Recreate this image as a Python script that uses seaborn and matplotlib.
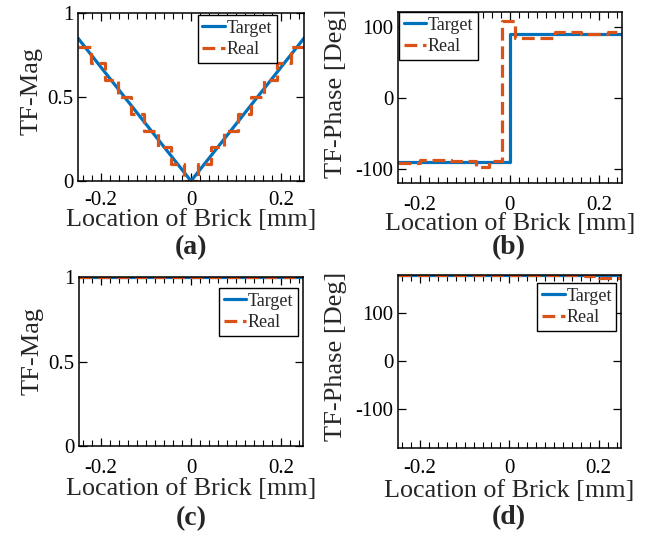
import numpy as np
import pandas as pd
import matplotlib
matplotlib.use("Agg")
import matplotlib.pyplot as plt
from matplotlib.ticker import MultipleLocator, FixedLocator
import seaborn as sns

# ---------------- data ----------------
# (a) magnitude, brick position sweep
a_target_x = [-0.25, 0.0, 0.25]
a_target_y = [0.85, 0.0, 0.85]
a_real_x = [-0.25, -0.221, -0.191, -0.162, -0.132, -0.103, -0.074, -0.044, -0.015,
            0.015, 0.044, 0.074, 0.103, 0.132, 0.162, 0.191, 0.221, 0.25]
a_real_y = [0.8, 0.7, 0.6, 0.5, 0.4, 0.3, 0.2, 0.1, 0.0,
            0.1, 0.2, 0.3, 0.4, 0.5, 0.6, 0.7, 0.8, 0.8]

# (b) phase
b_target_x = [-0.25, 0.0, 0.25]
b_target_y = [-90, 90, 90]
b_real_x = [-0.25, -0.2, -0.13, -0.076, -0.046, -0.017, 0.012, 0.10, 0.16, 0.22, 0.25]
b_real_y = [-91, -88, -89, -97, -89, 108, 84, 92, 90, 92, 92]

# (c) magnitude, second case
c_target_x = [-0.25, 0.25]
c_target_y = [1.0, 1.0]
c_real_x = [-0.25, 0.25]
c_real_y = [1.0, 1.0]

# (d) phase, second case
d_target_x = [-0.25, 0.25]
d_target_y = [180, 180]
d_real_x = [-0.25, 0.17, 0.20, 0.25]
d_real_y = [180, 177, 173, 173]

x_ticks = [-0.2, 0.0, 0.2]
x_ticklabels = ["-0.2", "0", "0.2"]
mag_ticks = [0, 0.5, 1]
mag_ticklabels = ["0", "0.5", "1"]
phase_ticks = [-100, 0, 100]
phase_ticklabels = ["-100", "0", "100"]
panel_labels = ["(a)", "(b)", "(c)", "(d)"]
series_names = ["Target", "Real"]

# ---------------- style ----------------
sns.set_style("ticks")
plt.rcParams["font.family"] = ["Liberation Serif", "DejaVu Serif"]
plt.rcParams["axes.unicode_minus"] = False
plt.rcParams["xtick.direction"] = "in"
plt.rcParams["ytick.direction"] = "in"
plt.rcParams["xtick.minor.visible"] = True
plt.rcParams["xtick.minor.size"] = 4
plt.rcParams["xtick.minor.width"] = 0.8
plt.rcParams["xtick.minor.top"] = True
plt.rcParams["xtick.minor.bottom"] = True

BLUE = "#0072BD"
ORANGE = "#D95319"
W, H = 651, 536
fig = plt.figure(figsize=(W / 100, H / 100), dpi=100)


def px_axes(x0, y0, x1, y1):
    return fig.add_axes([x0 / W, 1 - y1 / H, (x1 - x0) / W, (y1 - y0) / H])


panels = [
    dict(box=(78, 13, 304, 181), tx=a_target_x, ty=a_target_y, rx=a_real_x, ry=a_real_y,
         ylim=(0, 1), yt=mag_ticks, ytl=mag_ticklabels, ylabel="TF-Mag",
         leg=(0.53, 0.988), tstep=False, xpad=7.3, xlp=-1, ylp=3.4, ly=0.536),
    dict(box=(397.7, 12.3, 621.7, 183.3), tx=b_target_x, ty=b_target_y, rx=b_real_x, ry=b_real_y,
         ylim=(-120, 120), yt=phase_ticks, ytl=phase_ticklabels, ylabel="TF-Phase [Deg]",
         leg=(0.006, 1.0), tstep=True, xpad=8.8, xlp=-1, ylp=6.0, ly=0.525),
    dict(box=(78.7, 277.3, 303.3, 446), tx=c_target_x, ty=c_target_y, rx=c_real_x, ry=c_real_y,
         ylim=(0, 1), yt=mag_ticks, ytl=mag_ticklabels, ylabel="TF-Mag",
         leg=(0.625, 0.935), tstep=False, xpad=9.5, xlp=0, ylp=3.4, ly=0.563),
    dict(box=(397.7, 275, 621, 447.7), tx=d_target_x, ty=d_target_y, rx=d_real_x, ry=d_real_y,
         ylim=(-180, 180), yt=phase_ticks, ytl=phase_ticklabels, ylabel="TF-Phase [Deg]",
         leg=(0.626, 0.952), tstep=False, xpad=7.9, xlp=1.5, ylp=6.0, ly=0.531),
]

for i, p in enumerate(panels):
    ax = px_axes(*p["box"])
    df_t = pd.DataFrame({"x": p["tx"], "y": p["ty"]})
    df_r = pd.DataFrame({"x": p["rx"], "y": p["ry"]})
    sns.lineplot(data=df_t, x="x", y="y", ax=ax, color=BLUE, lw=2.3,
                 label=series_names[0], estimator=None, sort=False,
                 drawstyle="steps-post" if p["tstep"] else "default")
    sns.lineplot(data=df_r, x="x", y="y", ax=ax, color=ORANGE, lw=2.3,
                 label=series_names[1], estimator=None, sort=False,
                 drawstyle="steps-post", dashes=False)
    ax.lines[1].set_dashes((4.0, 1.8))
    ax.set_xlim(-0.25, 0.25)
    ax.set_ylim(*p["ylim"])
    ax.xaxis.set_major_locator(FixedLocator(x_ticks))
    ax.set_xticklabels(x_ticklabels)
    ax.yaxis.set_major_locator(FixedLocator(p["yt"]))
    ax.set_yticklabels(p["ytl"])
    ax.tick_params(axis="both", which="major", direction="in", length=6, width=0.9,
                   top=True, right=True, labelsize=15, pad=3, colors="black")
    ax.tick_params(axis="x", which="major", pad=p["xpad"])
    ax.xaxis.set_minor_locator(MultipleLocator(0.02))
    ax.yaxis.set_minor_locator(FixedLocator([]))
    ax.tick_params(axis="x", which="minor", direction="in", length=4, width=0.8,
                   top=True, bottom=True, color="black")
    for s in ax.spines.values():
        s.set_visible(True)
        s.set_color("black")
        s.set_linewidth(1.1)
    ax.set_xlabel("Location of Brick [mm]", fontsize=18.8, labelpad=p["xlp"])
    ax.set_ylabel(p["ylabel"], fontsize=19, labelpad=p["ylp"])
    ax.yaxis.label.set_y(p["ly"])
    leg = ax.legend(loc="upper left", bbox_to_anchor=p["leg"], fontsize=13,
                    frameon=True, fancybox=False, framealpha=1, edgecolor="black",
                    borderpad=0.25, labelspacing=0.25, handlelength=1.25,
                    handletextpad=0.1, borderaxespad=0)
    leg.get_frame().set_linewidth(1.0)
    for lh in leg.get_lines():
        lh.set_linewidth(2.3)
    ax.set_facecolor("white")

label_pos = [(191, 248), (509, 248), (191, 519), (509, 518)]
for (x, y), t in zip(label_pos, panel_labels):
    fig.text(x / W, 1 - y / H, t, ha="center", va="center", fontsize=20, fontweight="bold")

fig.savefig("out.png", dpi=100, facecolor="white")
